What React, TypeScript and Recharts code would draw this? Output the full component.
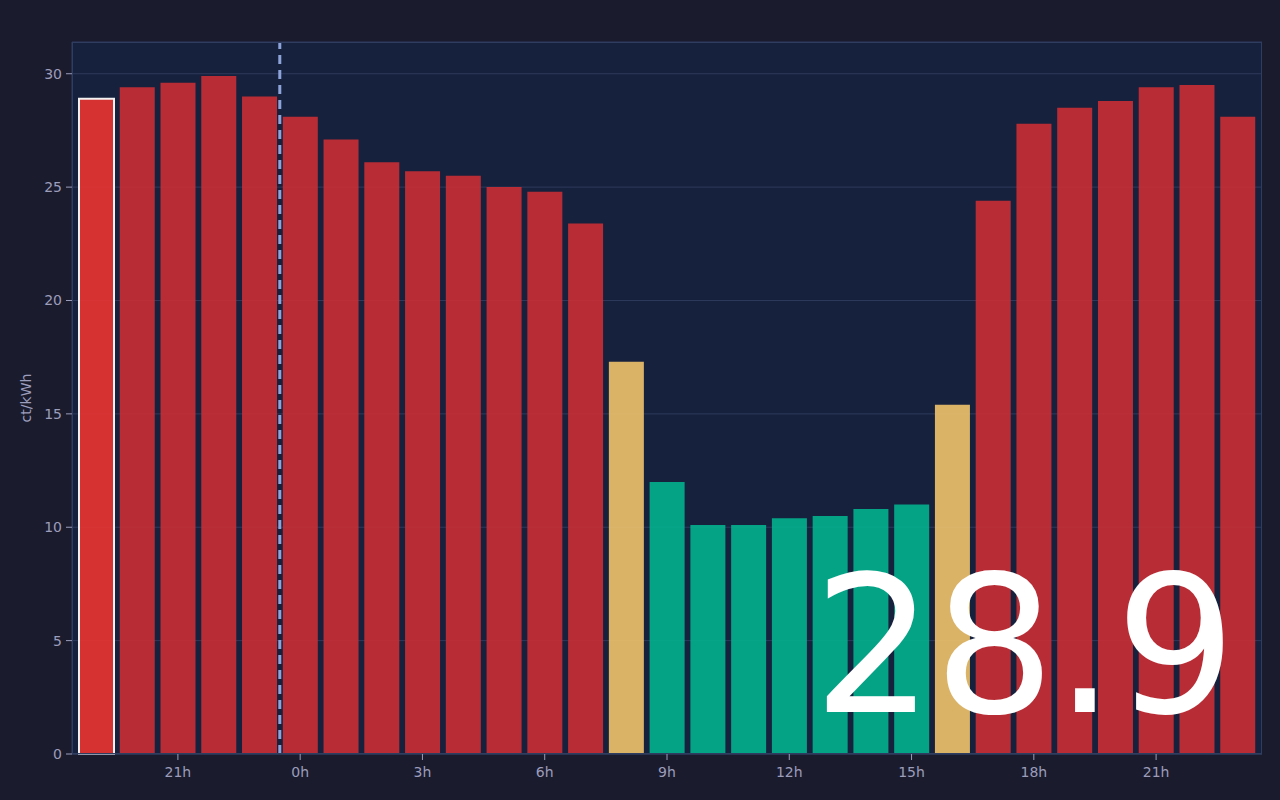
import { Bar, BarChart, CartesianGrid, Cell, ReferenceLine, XAxis, YAxis } from "recharts"

// hour of each bar (starts 19h yesterday, runs to 23h today)
const hours = [19, 20, 21, 22, 23, 0, 1, 2, 3, 4, 5, 6, 7, 8, 9, 10, 11, 12, 13, 14, 15, 16, 17, 18, 19, 20, 21, 22, 23]
// price per hour, ct/kWh
const prices = [
  28.9, 29.4, 29.6, 29.9, 29.0, 28.1, 27.1, 26.1, 25.7, 25.5, 25.0, 24.8, 23.4, 17.3, 12.0,
  10.1, 10.1, 10.4, 10.5, 10.8, 11.0, 15.4, 24.4, 27.8, 28.5, 28.8, 29.4, 29.5, 28.1
]
const xTicks = [2, 5, 8, 11, 14, 17, 20, 23, 26]
const yTicks = [0, 5, 10, 15, 20, 25, 30]
const currentIndex = 0
const midnightAt = 4.5
const currentPrice = '28.9'

const data = prices.map((price, i) => ({ idx: i, hour: hours[i], price }))

const RED = '#ca2f34'
const YELLOW = '#efc36b'
const TEAL = '#03b18e'
const CURRENT = '#eb3431'

const colorFor = (v: number) => (v >= 20 ? RED : v >= 15 ? YELLOW : TEAL)

const tickStyle = { fill: '#9b9dbb', fontSize: 14, fontFamily: 'DejaVu Sans, sans-serif' }

const App = () => {
  return (
    <div style={{ position: 'fixed', top: 0, left: 0, width: 1280, height: 800, background: '#1b1b2e' }}>
      <BarChart
        width={1280}
        height={800}
        data={data}
        margin={{ top: 42, right: 18, bottom: 16, left: 12 }}
      >
        <CartesianGrid vertical={false} stroke="#2e3a5c" fill="#16213d" fillOpacity={1} />
        <XAxis
          dataKey="idx"
          type="number"
          domain={[-0.5, 28.5]}
          ticks={xTicks}
          tickFormatter={(v: number) => `${hours[v]}h`}
          padding={{ left: 4, right: 4 }}
          height={30}
          tick={tickStyle}
          tickSize={6}
          tickMargin={7}
          stroke="#2e3d60"
          tickLine={{ stroke: '#9b9dbb' }}
        />
        <YAxis
          domain={[0, 31.4]}
          ticks={yTicks}
          width={60}
          tick={tickStyle}
          tickSize={6}
          tickMargin={4}
          stroke="#2e3d60"
          tickLine={{ stroke: '#9b9dbb' }}
          label={{
            value: 'ct/kWh',
            angle: -90,
            position: 'insideLeft',
            offset: 14,
            style: { fill: '#9b9dbb', fontSize: 14, fontFamily: 'DejaVu Sans, sans-serif', textAnchor: 'middle' }
          }}
        />
        <Bar dataKey="price" barSize={35} isAnimationActive={false}>
          {data.map((d, i) => (
            <Cell
              key={`cell-${i}`}
              fill={i === currentIndex ? CURRENT : colorFor(d.price)}
              fillOpacity={0.9}
              stroke={i === currentIndex ? '#f2f2f2' : 'none'}
              strokeWidth={i === currentIndex ? 2 : 0}
            />
          ))}
        </Bar>
        <ReferenceLine x={midnightAt} stroke="#8ea3d9" strokeWidth={3} strokeDasharray="9 6" />
      </BarChart>
      <div
        style={{
          position: 'absolute',
          left: 72,
          top: 42,
          width: 1190,
          height: 712,
          boxSizing: 'border-box',
          border: '1.5px solid #2e3d60',
          pointerEvents: 'none'
        }}
      />
      <svg width={1280} height={800} style={{ position: 'absolute', left: 0, top: 0, pointerEvents: 'none' }}>
        <text x={813} y={712} fill="#ffffff" fontSize={190} fontFamily="DejaVu Sans, sans-serif">
          {currentPrice}
        </text>
      </svg>
    </div>
  )
}

export default App
